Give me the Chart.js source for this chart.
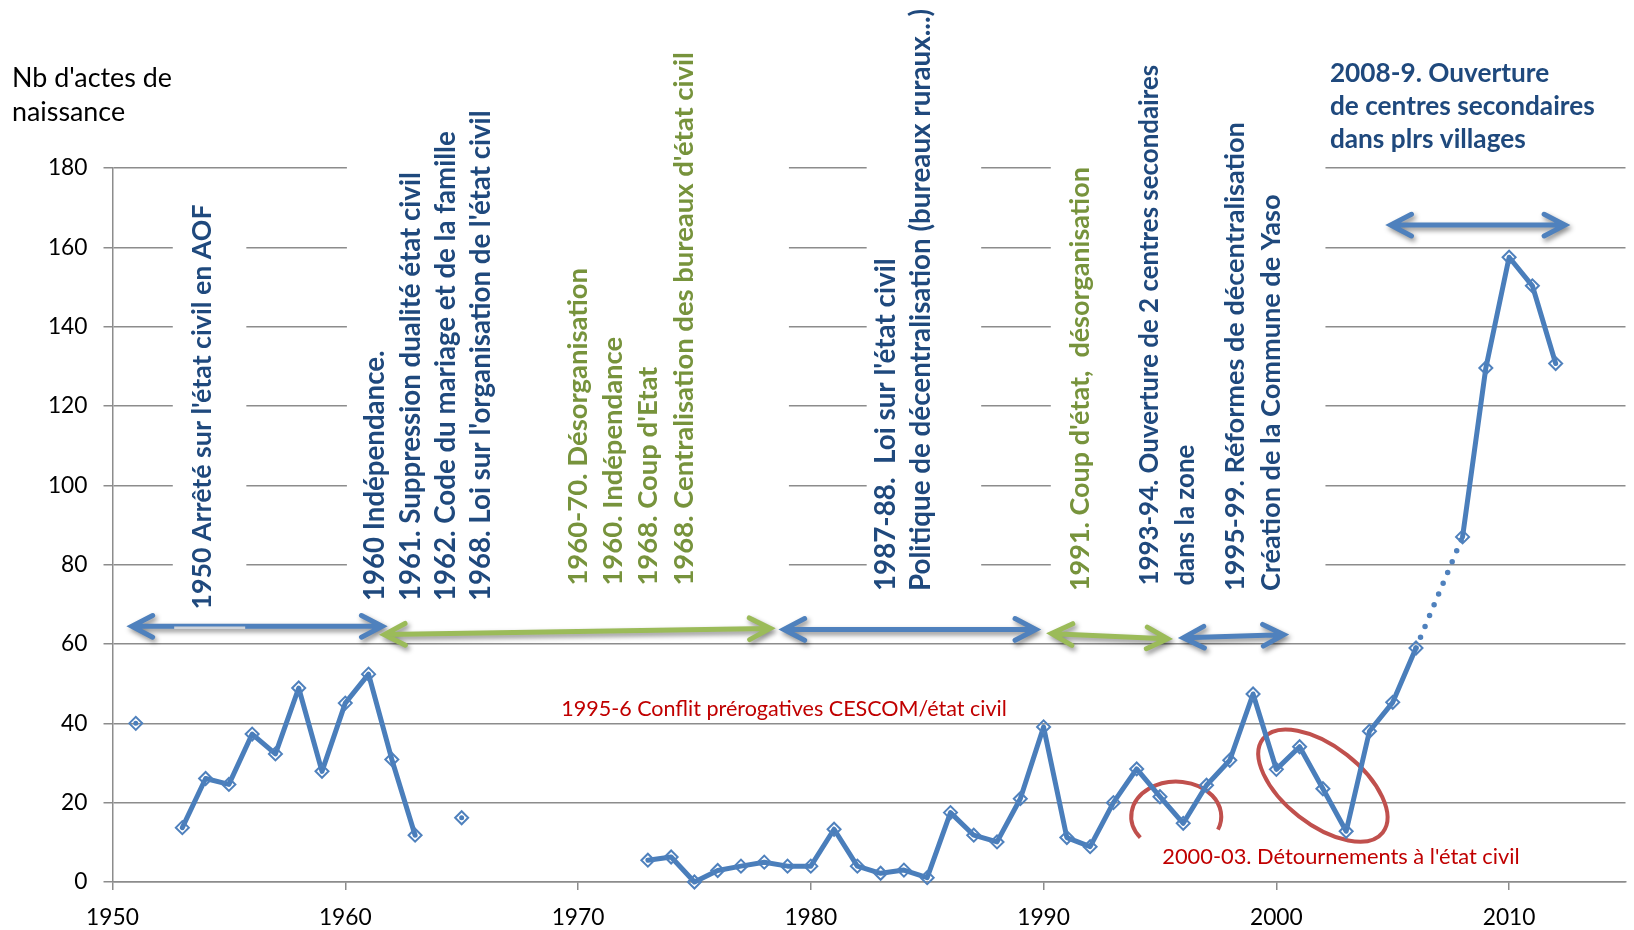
<!DOCTYPE html>
<html><head><meta charset="utf-8">
<script src="https://cdn.jsdelivr.net/npm/chart.js@4.4.1/dist/chart.umd.min.js"></script>
<style>html,body{margin:0;padding:0;background:#fff;overflow:hidden;}canvas{display:block;}</style>
</head><body>
<canvas id="c" width="1634" height="930"></canvas>
<script>
// ---------------- DATA ----------------
const years = [1951,1952,1953,1954,1955,1956,1957,1958,1959,1960,1961,1962,1963,1964,1965,1966,1967,1968,1969,1970,1971,1972,1973,1974,1975,1976,1977,1978,1979,1980,1981,1982,1983,1984,1985,1986,1987,1988,1989,1990,1991,1992,1993,1994,1995,1996,1997,1998,1999,2000,2001,2002,2003,2004,2005,2006,2007,2008,2009,2010,2011,2012];
const births = [40,null,13.7,26.1,24.6,37.3,32.3,48.9,27.9,45.1,52.4,30.9,11.8,null,16.2,null,null,null,null,null,null,null,5.5,6.3,0,2.9,4,5,4,4,13.3,4,2.2,3,1.1,17.5,11.8,10.1,21,39.1,11.2,8.9,20,28.5,21.5,14.8,24.4,30.7,47.4,28.4,34.1,23.5,12.8,38,45.3,59,null,87,129.6,157.5,150.3,130.7];
const dottedYears = [2006, 2008];
const xTicks = [1950,1960,1970,1980,1990,2000,2010];
const yTicks = [0,20,40,60,80,100,120,140,160,180];

const yAxisTitle = ["Nb d'actes de", "naissance"];
const noteA = ["1950 Arrêté sur l'état civil en AOF"];
const noteB = ["1960 Indépendance.", "1961. Suppression dualité état civil", "1962. Code du mariage et de la famille", "1968. Loi sur l'organisation de l'état civil"];
const noteG1 = ["1960-70. Désorganisation", "1960. Indépendance", "1968. Coup d'Etat", "1968. Centralisation des bureaux d'état civil"];
const noteC = ["1987-88.  Loi sur l'état civil", "Politique de décentralisation (bureaux ruraux...)"];
const noteG2 = ["1991. Coup d'état,  désorganisation"];
const noteD = ["1993-94. Ouverture de 2 centres secondaires", "dans la zone"];
const noteE = ["1995-99. Réformes de décentralisation", "Création de la Commune de Yaso"];
const topNote = ["2008-9. Ouverture", "de centres secondaires", "dans plrs villages"];
const redNote1 = "1995-6 Conflit prérogatives CESCOM/état civil";
const redNote2 = "2000-03. Détournements à l'état civil";

// ---------------- STYLE / LAYOUT ----------------
const C = {blue:'#4F81BD', line:'#4A7EBB', green:'#9BBB59', dblue:'#1F497D', dgreen:'#77933C', red:'#C00000', redLine:'#C0504D', grid:'#8C8C8C'};
const FONT = 'Lato, "Open Sans", sans-serif';
function fitSize(text, weight, target){
  const c = document.createElement('canvas').getContext('2d');
  c.font = weight + ' 100px ' + FONT;
  return 100 * target / c.measureText(text).width;
}
const WANT = {left:112.5, right:1632, top:168, bottom:882};

// annotation layout (in data units: year, value) ; fit = [line index, drawn length in px]
const boxes = [
  [1952.59,1955.75,66.5,175],
  [1960.07,1979.06,66.5,225],
  [1982.40,1987.32,66.5,225],
  [1990.31,2002.11,66.5,225]
];
const vBlocks = [
  {lines:noteA, color:C.dblue, x:1954.24, y:68.67, fit:[0,405.4]},
  {lines:noteB, color:C.dblue, x:1961.68, y:70.83, fit:[3,490.8]},
  {lines:noteG1, color:C.dgreen, x:1970.37, y:74.72, fit:[3,533.6]},
  {lines:noteC, color:C.dblue, x:1983.60, y:73.35, fit:[1,582.5]},
  {lines:noteG2, color:C.dgreen, x:1991.94, y:73.35, fit:[0,424]},
  {lines:noteD, color:C.dblue, x:1994.93, y:74.72, fit:[0,521]},
  {lines:noteE, color:C.dblue, x:1998.63, y:73.35, fit:[0,469]}
];
const arrows = [
  {c:C.blue, a:[1950.83,64.45], b:[1961.59,64.45]},
  {c:C.green, a:[1961.68,62.36], b:[1978.26,63.93]},
  {c:C.blue, a:[1978.84,63.67], b:[1989.67,63.67]},
  {c:C.green, a:[1990.34,62.62], b:[1995.33,61.3]},
  {c:C.blue, a:[1996.0,61.56], b:[2000.32,62.36]},
  {c:C.blue, a:[2004.91,165.6], b:[2012.40,165.6]}
];

function build(){
  const boldPx = fitSize(topNote[1], 'bold', 265);
  const redPx1 = fitSize(redNote1, 'normal', 446);
  const redPx2 = fitSize(redNote2, 'normal', 357.5);
  const tickPx = fitSize('180', 'normal', 39.6);
  const titlePx = fitSize(yAxisTitle[0], 'normal', 160);
  vBlocks.forEach(bl => { bl.px = fitSize(bl.lines[bl.fit[0]], 'bold', bl.fit[1]); });

  function drawArrow(ctx, x1, y1, x2, y2, color){
    const ang = Math.atan2(y2-y1, x2-x1), L = 23.5, a = 0.48;
    ctx.save();
    ctx.shadowColor = 'rgba(0,0,0,0.45)'; ctx.shadowBlur = 5; ctx.shadowOffsetX = 2; ctx.shadowOffsetY = 3;
    ctx.strokeStyle = color; ctx.lineWidth = 5; ctx.lineCap = 'round'; ctx.lineJoin = 'miter';
    ctx.beginPath();
    ctx.moveTo(x1 + 2*Math.cos(ang), y1 + 2*Math.sin(ang)); ctx.lineTo(x2 - 2*Math.cos(ang), y2 - 2*Math.sin(ang));
    ctx.moveTo(x2 - L*Math.cos(ang-a), y2 - L*Math.sin(ang-a)); ctx.lineTo(x2, y2); ctx.lineTo(x2 - L*Math.cos(ang+a), y2 - L*Math.sin(ang+a));
    ctx.moveTo(x1 + L*Math.cos(ang-a), y1 + L*Math.sin(ang-a)); ctx.lineTo(x1, y1); ctx.lineTo(x1 + L*Math.cos(ang+a), y1 + L*Math.sin(ang+a));
    ctx.stroke();
    ctx.restore();
  }

  const annot = {
    id:'annot',
    beforeDatasetsDraw(chart){
      const ctx = chart.ctx, sx = chart.scales.x, sy = chart.scales.y;
      const X = v => sx.getPixelForValue(v), Y = v => sy.getPixelForValue(v);
      ctx.save();
      // white text boxes hiding the grid
      ctx.fillStyle = '#ffffff';
      boxes.forEach(b => { const x0 = X(b[0]), x1 = X(b[1]), y0 = Y(b[3]), y1 = Y(b[2]); ctx.fillRect(x0, y0, x1-x0, y1-y0); });
      // red ellipses
      ctx.strokeStyle = C.redLine; ctx.lineWidth = 4;
      ctx.beginPath(); ctx.ellipse(X(1995.7), Y(16.5), 45, 35, 0, 143*Math.PI/180, 382*Math.PI/180); ctx.stroke();
      ctx.beginPath(); ctx.ellipse(X(2002.0), Y(24.3), 76, 39, 38*Math.PI/180, 0, 2*Math.PI); ctx.stroke();
      // vertical texts
      ctx.textAlign = 'left'; ctx.textBaseline = 'alphabetic';
      vBlocks.forEach(bl => {
        ctx.fillStyle = bl.color;
        ctx.font = 'bold ' + bl.px + 'px ' + FONT;
        bl.lines.forEach((t, i) => {
          ctx.save(); ctx.translate(X(bl.x) + i*35.3, Y(bl.y)); ctx.rotate(-Math.PI/2); ctx.fillText(t, 0, 0); ctx.restore();
        });
      });
      // arrows
      arrows.forEach(ar => drawArrow(ctx, X(ar.a[0]), Y(ar.a[1]), X(ar.b[0]), Y(ar.b[1]), ar.c));
      // light stripe on the first arrow
      ctx.strokeStyle = '#cfd4da'; ctx.lineWidth = 2.5; ctx.lineCap = 'butt';
      ctx.beginPath(); ctx.moveTo(X(1952.65), Y(64.45)+1.5); ctx.lineTo(X(1955.7), Y(64.45)+1.5); ctx.stroke();
      // top-right note
      ctx.fillStyle = C.dblue; ctx.font = 'bold ' + boldPx + 'px ' + FONT;
      topNote.forEach((t, i) => ctx.fillText(t, X(2002.3), Y(201.7) + i*33));
      // red notes
      ctx.fillStyle = C.red;
      ctx.font = redPx1 + 'px ' + FONT; ctx.fillText(redNote1, X(1969.28), Y(41.85));
      ctx.font = redPx2 + 'px ' + FONT; ctx.fillText(redNote2, X(1995.10), Y(4.54));
      // y axis title
      ctx.fillStyle = '#000'; ctx.font = titlePx + 'px ' + FONT;
      ctx.fillText(yAxisTitle[0], 12, 86.5);
      ctx.fillText(yAxisTitle[1], 12, 121);
      ctx.restore();
    }
  };

  const pad = {left:0, right:2, top:168, bottom:0};
  const ch = new Chart(document.getElementById('c'), {
    type:'line',
    data:{
      datasets:[
        {
          data: years.map((y,i)=>({x:y, y:births[i]})),
          borderColor:C.line, borderWidth:5, borderJoinStyle:'round', borderCapStyle:'round',
          pointStyle:'rectRot', pointRadius:6.5, pointBorderWidth:2, pointBorderColor:C.blue,
          pointBackgroundColor:'rgba(255,255,255,0)', spanGaps:false, tension:0, clip:false
        },
        {
          data: dottedYears.map(y=>({x:y, y:births[years.indexOf(y)]})),
          borderColor:C.blue, borderWidth:5.5, borderDash:[0,11.7], borderCapStyle:'round',
          pointRadius:0, tension:0, clip:false
        }
      ]
    },
    options:{
      responsive:false, animation:false, devicePixelRatio:1, events:[],
      layout:{padding:Object.assign({}, pad)},
      plugins:{legend:{display:false}, tooltip:{enabled:false}},
      scales:{
        x:{
          type:'linear', min:1950, max:2015,
          afterBuildTicks(s){ s.ticks = xTicks.map(v=>({value:v})); },
          afterFit(s){ s.height = 48; s.paddingLeft = 0; s.paddingRight = 0; },
          grid:{drawOnChartArea:false, drawTicks:true, tickLength:8, color:C.grid, lineWidth:1.5},
          border:{display:true, color:C.grid, width:1.5},
          ticks:{color:'#000', font:{family:FONT, size:tickPx}, padding:14, maxRotation:0, callback:v=>String(v)}
        },
        y:{
          type:'linear', min:0, max:180,
          afterBuildTicks(s){ s.ticks = yTicks.map(v=>({value:v})); },
          afterFit(s){ s.width = 112.5; },
          grid:{drawTicks:true, tickLength:9, color:C.grid, lineWidth:1.5},
          border:{display:true, color:C.grid, width:1.5},
          ticks:{color:'#000', font:{family:FONT, size:tickPx}, padding:16, callback:v=>String(v)}
        }
      }
    },
    plugins:[annot]
  });
  // make sure the plot area sits exactly where the reference has it
  const ca = ch.chartArea;
  if (Math.abs(ca.left-WANT.left)>0.4 || Math.abs(ca.right-WANT.right)>0.4 || Math.abs(ca.top-WANT.top)>0.4 || Math.abs(ca.bottom-WANT.bottom)>0.4) {
    ch.options.layout.padding = {
      left: pad.left + (WANT.left - ca.left),
      right: pad.right - (WANT.right - ca.right),
      top: pad.top + (WANT.top - ca.top),
      bottom: pad.bottom - (WANT.bottom - ca.bottom)
    };
    ch.update();
  }
}
if (document.fonts && document.fonts.load) {
  Promise.all([document.fonts.load('bold 20px Lato'), document.fonts.load('20px Lato')]).then(build, build);
} else build();
</script>
</body></html>
